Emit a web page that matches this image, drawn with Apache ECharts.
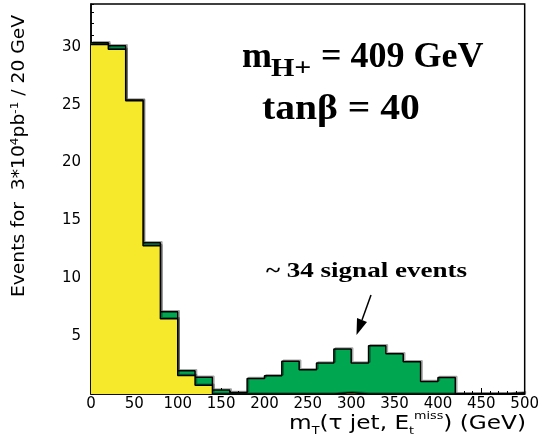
<!DOCTYPE html>
<html><head><meta charset="utf-8">
<script src="https://cdn.jsdelivr.net/npm/echarts@6/dist/echarts.min.js"></script>
<style>html,body{margin:0;padding:0;background:#fff}#c{width:542px;height:439px}</style>
</head><body><div id="c"></div>
<script>
// ---- data ----
const binWidth = 20;
const binStarts = [0, 20, 40, 60, 80, 100, 120, 140, 160, 180, 200, 220, 240, 260, 280, 300, 320, 340, 360, 380, 400, 420, 440, 460, 480];
const background = [30.2, 29.8, 25.35, 12.8, 6.5, 1.6, 0.75, 0, 0, 0, 0, 0, 0, 0, 0.1, 0, 0, 0, 0, 0, 0, 0, 0, 0, 0];
const signal = [0.15, 0.3, 0.05, 0.27, 0.6, 0.4, 0.7, 0.35, 0.13, 1.34, 1.57, 2.84, 2.09, 2.67, 3.78, 2.67, 4.17, 3.48, 2.79, 1.08, 1.43, 0, 0, 0, 0.1];
const xMin = 0, xMax = 500, xStep = 50;
const yMin = 0, yMax = 33.7, yStep = 5;

const YELLOW = '#f6e92b';
const GREEN = '#00a650';
const SANS = 'DejaVu Sans';
const SERIF = 'Liberation Serif';

const total = background.map((b, i) => b + signal[i]);
const stepPts = arr => binStarts.map((x, i) => [x, arr[i]]).concat([[binStarts[binStarts.length - 1] + binWidth, arr[arr.length - 1]]]);

const outline = { color: '#000', width: 1.5, shadowColor: 'rgba(0,0,0,0.35)', shadowOffsetX: 1.5, shadowOffsetY: -1, shadowBlur: 0 };

const chart = echarts.init(document.getElementById('c'), null, { renderer: 'canvas' });
chart.setOption({
  animation: false,
  grid: { left: 91, right: 16, top: 4, bottom: 45, show: true, borderColor: '#000', borderWidth: 1.5, backgroundColor: 'transparent' },
  xAxis: {
    type: 'value', min: xMin, max: xMax, interval: xStep,
    axisLine: { lineStyle: { color: '#000', width: 1.5 } },
    axisTick: { inside: true, length: 6, lineStyle: { color: '#000', width: 1 } },
    minorTick: { show: true, splitNumber: 5, length: 3, lineStyle: { color: '#000', width: 1 } },
    axisLabel: { margin: 3, color: '#000', fontFamily: SANS, fontSize: 15 },
    splitLine: { show: false }
  },
  yAxis: [{
    type: 'value', min: yMin, max: yMax, interval: yStep,
    axisLine: { show: true, lineStyle: { color: '#000', width: 1.5 } },
    axisTick: { inside: true, length: 6, lineStyle: { color: '#000', width: 1 } },
    axisLabel: { margin: 10, color: '#000', fontFamily: SANS, fontSize: 15, showMinLabel: false, showMaxLabel: false },
    splitLine: { show: false }
  }, {
    type: 'value', min: yMin, max: yMax, interval: 1, position: 'left',
    axisLine: { show: false },
    axisTick: { inside: true, length: 3, lineStyle: { color: '#000', width: 1 } },
    axisLabel: { show: false },
    splitLine: { show: false }
  }],
  series: [
    { type: 'line', name: 'signal + background', step: 'end', data: stepPts(total), symbol: 'none', lineStyle: outline, areaStyle: { color: GREEN, opacity: 1 }, z: 2 },
    { type: 'line', name: 'background', step: 'end', data: stepPts(background), symbol: 'none', lineStyle: outline, areaStyle: { color: YELLOW, opacity: 1 }, z: 3 }
  ],
  graphic: [
    { type: 'text', x: 242, y: 58, style: { text: 'm', font: 'bold 36px "' + SERIF + '"', fill: '#000', verticalAlign: 'middle' } },
    { type: 'text', x: 271, y: 69.5, scaleX: 1.2, style: { text: 'H+', font: 'bold 25px "' + SERIF + '"', fill: '#000', verticalAlign: 'middle' } },
    { type: 'text', x: 321, y: 58, style: { text: '= 409 GeV', font: 'bold 36px "' + SERIF + '"', fill: '#000', verticalAlign: 'middle' } },
    { type: 'text', x: 262, y: 110, scaleX: 1.1, style: { text: 'tanβ = 40', font: 'bold 36px "' + SERIF + '"', fill: '#000', verticalAlign: 'middle' } },
    { type: 'text', x: 366.5, y: 271, scaleX: 1.23, style: { text: '~ 34 signal events', font: 'bold 22px "' + SERIF + '"', fill: '#000', align: 'center', verticalAlign: 'middle' } },
    { type: 'line', shape: { x1: 371, y1: 295, x2: 362, y2: 320 }, style: { stroke: '#000', lineWidth: 1.5 } },
    { type: 'polygon', shape: { points: [[356.5, 335], [357, 318], [367, 322]] }, style: { fill: '#000' } },
    {
      type: 'text', x: 20, y: 156, rotation: Math.PI / 2, scaleX: 1.1,
      style: {
        text: 'Events for  3*10{sup|4}pb{sup|-1} / 20 GeV', fill: '#000', align: 'center', verticalAlign: 'middle',
        font: '17px "' + SANS + '"',
        rich: { sup: { fontSize: 11, fontFamily: SANS, verticalAlign: 'top', lineHeight: 21 } }
      }
    },
    {
      type: 'text', x: 526, y: 424, scaleX: 1.16,
      style: {
        text: 'm{sub|T}(τ jet, E{sub|t}{sup|miss}) (GeV)', fill: '#000', align: 'right', verticalAlign: 'middle',
        font: '20px "' + SANS + '"',
        rich: {
          sub: { fontSize: 11, fontFamily: SANS, verticalAlign: 'bottom', lineHeight: 26 },
          sup: { fontSize: 11, fontFamily: SANS, verticalAlign: 'top', lineHeight: 26 }
        }
      }
    }
  ]
});
</script>
</body></html>
